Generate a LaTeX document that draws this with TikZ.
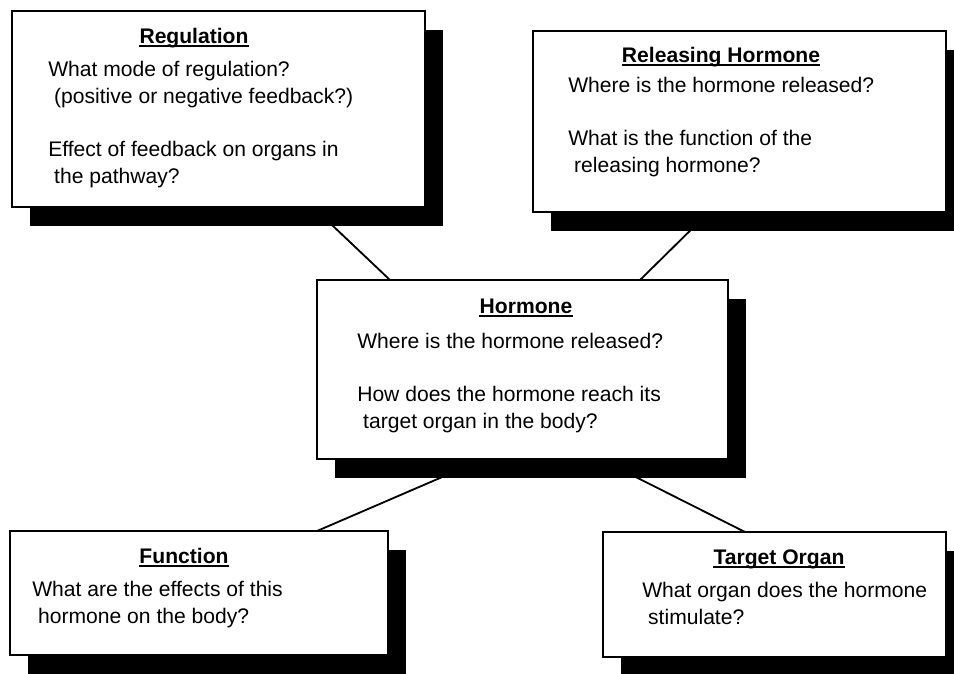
\documentclass[tikz,border=0pt]{standalone}
\usepackage{fontspec}
\setmainfont{Liberation Sans}
\usetikzlibrary{shadows}

\begin{document}
\begin{tikzpicture}[
	qbox/.style={draw,line width=1.3pt,fill=white,anchor=north west,inner sep=0,outer sep=0,
		drop shadow={shadow xshift=0.45cm,shadow yshift=-0.475cm,fill=black,opacity=1}},
	qhead/.style={anchor=base,inner sep=0,font=\fontsize{15}{19}\selectfont\bfseries},
	qtext/.style={anchor=north west,inner sep=0,align=left,font=\fontsize{15}{19}\selectfont}]
		\useasboundingbox (0,0) rectangle (23.85,-16.825);
		%Regulation
		\node[qbox,minimum width=10.325cm,minimum height=4.9cm] (reg) at (0.3,-0.275) {};
		\node[qhead] (regt) at (4.85,-1.075) {Regulation};
		\node[qtext] (regq) at (1.2,-1.525) {What mode of regulation?\\ \hspace*{.28em}(positive or negative feedback?)\\[19pt]
			Effect of feedback on organs in\\ \hspace*{.28em}the pathway?};
		%Releasing hormone
		\node[qbox,minimum width=10.325cm,minimum height=4.525cm] (rel) at (13.325,-0.775) {};
		\node[qhead] (relt) at (18.025,-1.55) {Releasing Hormone};
		\node[qtext] (relq) at (14.2,-1.925) {Where is the hormone released?\\[19pt]
			What is the function of the\\ \hspace*{.28em}releasing hormone?};
		%Hormone
		\node[qbox,minimum width=10.275cm,minimum height=4.475cm] (hor) at (7.925,-7.0) {};
		\node[qhead] (hort) at (13.15,-7.825) {Hormone};
		\node[qtext] (horq) at (8.925,-8.325) {Where is the hormone released?\\[19pt]
			How does the hormone reach its\\ \hspace*{.28em}target organ in the body?};
		%Function
		\node[qbox,minimum width=9.45cm,minimum height=3.1cm] (fun) at (0.25,-13.275) {};
		\node[qhead] (funt) at (4.6,-14.075) {Function};
		\node[qtext] (funq) at (0.8,-14.525) {What are the effects of this\\ \hspace*{.28em}hormone on the body?};
		%Target organ
		\node[qbox,minimum width=8.575cm,minimum height=3.125cm] (tar) at (15.075,-13.3) {};
		\node[qhead] (tart) at (19.475,-14.1) {Target Organ};
		\node[qtext] (tarq) at (16.05,-14.55) {What organ does the hormone\\ \hspace*{.28em}stimulate?};
		%underlines
		\foreach \t in {regt,relt,hort,funt,tart}
			\draw[line width=1.1pt] ([yshift=-2.2pt]\t.base west)--([yshift=-2.2pt]\t.base east);
		%links
		\draw[line width=1.3pt] ([xshift=7.525cm]reg.south west)--([xshift=1.825cm]hor.north west);
		\draw[line width=1.3pt] ([xshift=4.4cm]rel.south west)--([xshift=8.075cm]hor.north west);
		\draw[line width=1.3pt] ([xshift=4.175cm]hor.south west)--([xshift=7.675cm]fun.north west);
		\draw[line width=1.3pt] ([xshift=7.075cm]hor.south west)--([xshift=3.55cm]tar.north west);
\end{tikzpicture}
\end{document}
